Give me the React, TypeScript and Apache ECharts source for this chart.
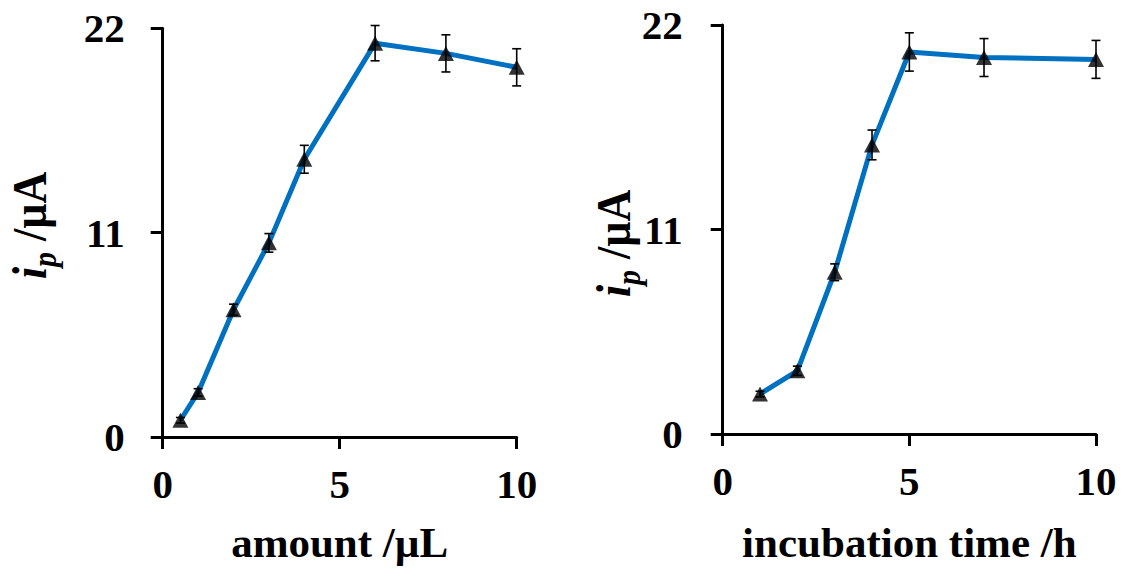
import React, { useEffect, useRef } from "react";
import * as echarts from "echarts";

// Left panel: peak current vs. amount
const amountX = [0.5, 1, 2, 3, 4, 6, 8, 10];
const amountY = [0.9, 2.4, 6.85, 10.45, 14.95, 21.2, 20.65, 19.9];
const amountErr = [0.15, 0.2, 0.3, 0.5, 0.75, 0.95, 1.0, 1.0];

// Right panel: peak current vs. incubation time
const timeX = [1, 2, 3, 4, 5, 7, 10];
const timeY = [2.15, 3.4, 8.7, 15.55, 20.55, 20.25, 20.15];
const timeErr = [0.15, 0.25, 0.45, 0.8, 1.03, 1.02, 1.02];

const yTicks = [0, 11, 22];
const xTicks = [0, 5, 10];
const xTitles = ["amount /\u00b5L", "incubation time /h"];

const FONT = '"Liberation Serif", "Times New Roman", serif';
const LINE_COLOR = "#0070C0";

function pairs(xs: number[], ys: number[]) {
  return xs.map((x, i) => [x, ys[i]]);
}
function errTriples(xs: number[], ys: number[], es: number[]) {
  return xs.map((x, i) => [x, ys[i], es[i]]);
}

function errorBarRender(params: any, api: any) {
  const x = api.value(0);
  const y = api.value(1);
  const e = api.value(2);
  const top = api.coord([x, y + e]);
  const bot = api.coord([x, y - e]);
  const cap = 4.5;
  const style = { stroke: "#000", lineWidth: 1.6, fill: "none" };
  return {
    type: "group",
    children: [
      { type: "line", shape: { x1: top[0], y1: top[1], x2: bot[0], y2: bot[1] }, style },
      { type: "line", shape: { x1: top[0] - cap, y1: top[1], x2: top[0] + cap, y2: top[1] }, style },
      { type: "line", shape: { x1: bot[0] - cap, y1: bot[1], x2: bot[0] + cap, y2: bot[1] }, style },
    ],
  };
}

// Rotated axis title "i_p /µA" with italic i and subscript p
function yTitle(gx: number, gy: number) {
  return {
    type: "group",
    x: gx,
    y: gy,
    rotation: Math.PI / 2,
    scaleY: 1.1,
    children: [
      {
        type: "text",
        x: 0,
        y: 0,
        style: {
          text: "i",
          font: `italic bold 44px ${FONT}`,
          fill: "#000",
          align: "left",
          verticalAlign: "middle",
        },
      },
      {
        type: "text",
        x: 12,
        y: 14,
        style: {
          text: "p",
          font: `italic bold 30px ${FONT}`,
          fill: "#000",
          align: "left",
          verticalAlign: "middle",
        },
      },
      {
        type: "text",
        x: 27,
        y: 0,
        style: {
          text: " /\u00b5A",
          font: `bold 44px ${FONT}`,
          fill: "#000",
          align: "left",
          verticalAlign: "middle",
        },
      },
    ],
  };
}

export default function App() {
  const ref = useRef<HTMLDivElement>(null);

  useEffect(() => {
    if (!ref.current) return;
    const chart = echarts.init(ref.current, undefined, { renderer: "svg" });

    const axisLine = { show: true, onZero: false, lineStyle: { color: "#000", width: 3 } };
    const axisTick = { show: true, length: 12, lineStyle: { color: "#000", width: 3 } };
    const tickFont = { fontFamily: FONT, fontWeight: "bold" as const, fontSize: 41, color: "#000" };

    const makeX = (gridIndex: number, nameGap: number) => ({
      type: "value",
      gridIndex,
      min: xTicks[0],
      max: xTicks[xTicks.length - 1],
      interval: xTicks[1] - xTicks[0],
      name: xTitles[gridIndex],
      nameLocation: "middle",
      nameGap,
      nameTextStyle: { fontFamily: FONT, fontWeight: "bold", fontSize: 43, color: "#000" },
      axisLine,
      axisTick,
      splitLine: { show: false },
      axisLabel: { ...tickFont, margin: 26 },
    });
    const makeY = (gridIndex: number, margin: number) => ({
      type: "value",
      gridIndex,
      min: yTicks[0],
      max: yTicks[yTicks.length - 1],
      interval: yTicks[1] - yTicks[0],
      axisLine,
      axisTick,
      splitLine: { show: false },
      axisLabel: { ...tickFont, margin },
    });

    const panels = [
      { xs: amountX, ys: amountY, es: amountErr },
      { xs: timeX, ys: timeY, es: timeErr },
    ];

    const series: any[] = [];
    panels.forEach((p, i) => {
      series.push({
        type: "line",
        xAxisIndex: i,
        yAxisIndex: i,
        data: pairs(p.xs, p.ys),
        symbol: "none",
        lineStyle: { color: LINE_COLOR, width: 5 },
        z: 2,
      });
      series.push({
        type: "custom",
        xAxisIndex: i,
        yAxisIndex: i,
        data: errTriples(p.xs, p.ys, p.es),
        renderItem: errorBarRender,
        z: 3,
      });
      series.push({
        type: "scatter",
        xAxisIndex: i,
        yAxisIndex: i,
        data: pairs(p.xs, p.ys),
        symbol: "triangle",
        symbolSize: [16, 15],
        itemStyle: { color: "#000" },
        z: 4,
      });
    });

    chart.setOption({
      animation: false,
      backgroundColor: "#fff",
      grid: [
        { left: 162.7, right: 605.3, top: 28.3, bottom: 131.5 },
        { left: 722.7, right: 26, top: 25, bottom: 128 },
      ],
      xAxis: [makeX(0, 84), makeX(1, 87)],
      yAxis: [makeY(0, 38), makeY(1, 40)],
      series,
      graphic: [yTitle(30, 279), yTitle(614, 297)],
    });

    return () => chart.dispose();
  }, []);

  return (
    <div
      ref={ref}
      style={{ position: "absolute", left: 0, top: 0, width: 1122, height: 569 }}
    />
  );
}
